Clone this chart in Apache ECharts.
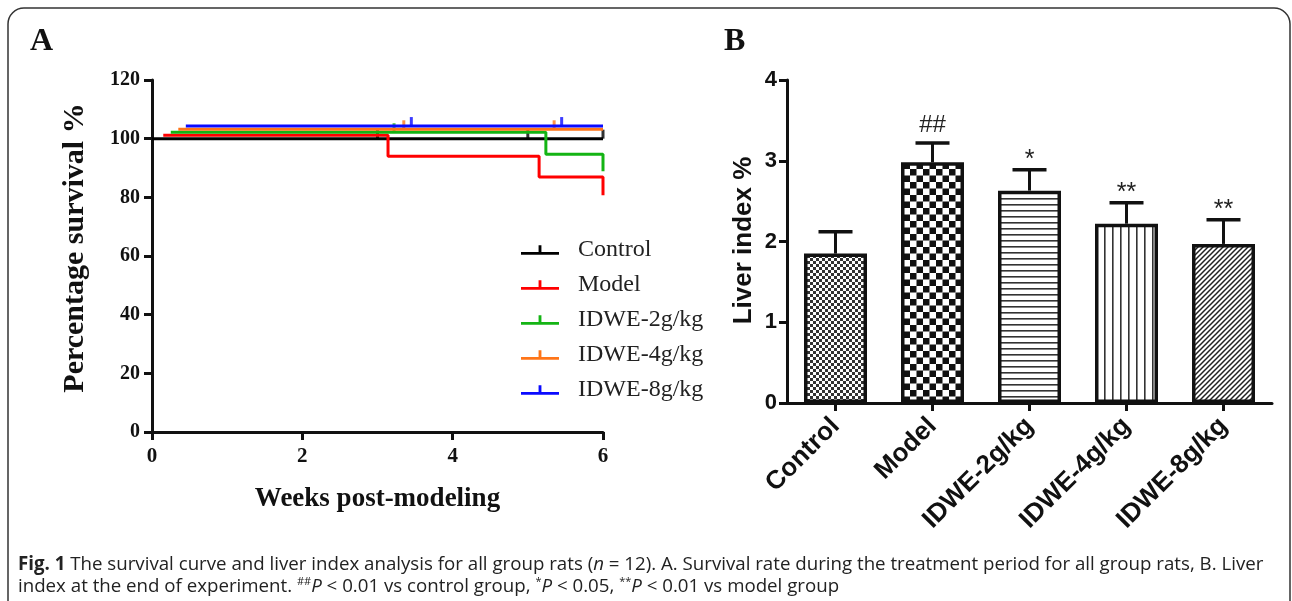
<!DOCTYPE html>
<html>
<head>
<meta charset="utf-8">
<script src="https://cdn.jsdelivr.net/npm/echarts@6/dist/echarts.min.js"></script>
<style>
  html, body { margin: 0; padding: 0; background: #fff; }
  #main { width: 1292px; height: 601px; }
</style>
</head>
<body>
<div id="main"></div>
<script>
// panel A: survival curves (weeks, percent) as drawn (GraphPad offsets each group a little)
const groupNames = ['Control', 'Model', 'IDWE-2g/kg', 'IDWE-4g/kg', 'IDWE-8g/kg']
const groupColors = ['#000000', '#ff0000', '#14b414', '#ff7518', '#0a0aff']
const controlCurve = [[0, 100], [6, 100]]
const modelCurve = [[0.15, 101.2], [3.14, 94.0], [5.15, 86.9], [6, 80.7]]
const idwe2Curve = [[0.25, 102.2], [5.24, 94.7], [6, 88.9]]
const idwe4Curve = [[0.35, 103.2], [6, 103.2]]
const idwe8Curve = [[0.45, 104.3], [6, 104.3]]
// censor marks
const controlCensor = [[3.0, 100], [5.0, 100], [6, 100]]
const modelCensor = []
const idwe2Censor = [[3.22, 102.2]]
const idwe4Censor = [[3.35, 103.2], [5.35, 103.2]]
const idwe8Censor = [[3.45, 104.3], [5.45, 104.3]]
const weekTicks = [0, 2, 4, 6]

// panel B: liver index
const liverMean = [1.85, 2.98, 2.63, 2.22, 1.97]
const liverSd = [0.27, 0.24, 0.26, 0.26, 0.30]
const liverSig = ['', '##', '*', '**', '**']

const curves = [controlCurve, modelCurve, idwe2Curve, idwe4Curve, idwe8Curve]
const censors = [controlCensor, modelCensor, idwe2Censor, idwe4Censor, idwe8Censor]

const serif = 'Liberation Serif'
const sans = 'Liberation Sans'

// fill patterns for the bars
function makePattern(kind) {
  const c = document.createElement('canvas')
  const ctx = c.getContext('2d')
  if (kind === 'fineChecker' || kind === 'checker') {
    const s = kind === 'fineChecker' ? 3 : 6.5
    c.width = c.height = s * 2
    ctx.fillStyle = '#fff'
    ctx.fillRect(0, 0, s * 2, s * 2)
    ctx.fillStyle = kind === 'fineChecker' ? '#333' : '#111'
    ctx.fillRect(0, 0, s, s)
    ctx.fillRect(s, s, s, s)
  } else if (kind === 'hlines') {
    c.width = 8; c.height = 6.5
    ctx.fillStyle = '#fff'
    ctx.fillRect(0, 0, 8, 7)
    ctx.fillStyle = '#333'
    ctx.fillRect(0, 0, 8, 1.6)
  } else if (kind === 'vlines') {
    c.width = 8; c.height = 8
    ctx.fillStyle = '#fff'
    ctx.fillRect(0, 0, 8, 8)
    ctx.fillStyle = '#333'
    ctx.fillRect(0, 0, 1.6, 8)
  } else {
    const s = 5
    c.width = c.height = s
    ctx.fillStyle = '#fff'
    ctx.fillRect(0, 0, s, s)
    ctx.strokeStyle = '#222'
    ctx.lineWidth = 1.5
    ctx.beginPath()
    ctx.moveTo(-1, s + 1); ctx.lineTo(s + 1, -1)
    ctx.moveTo(-1, 1); ctx.lineTo(1, -1)
    ctx.moveTo(s - 1, s + 1); ctx.lineTo(s + 1, s - 1)
    ctx.stroke()
  }
  return { image: c, repeat: 'repeat' }
}
const barPatterns = ['fineChecker', 'checker', 'hlines', 'vlines', 'diag'].map(makePattern)

const legendIcon = 'path://M0,7L40,7L40,10L0,10Z M18.5,0L21.5,0L21.5,7L18.5,7Z'

const series = []
curves.forEach((d, i) => {
  series.push({
    name: groupNames[i],
    type: 'line',
    xAxisIndex: 0,
    yAxisIndex: 0,
    step: 'end',
    symbol: 'none',
    data: d,
    color: groupColors[i],
    lineStyle: { width: 3, color: groupColors[i] },
    z: 2 + i,
  })
})
censors.forEach((d, i) => {
  series.push({
    name: groupNames[i] + ' censored',
    type: 'scatter',
    xAxisIndex: 0,
    yAxisIndex: 0,
    symbol: 'rect',
    symbolSize: [3, 9],
    symbolOffset: [0, '-50%'],
    data: d,
    itemStyle: { color: groupColors[i] },
    z: 2 + i,
  })
})
series.push({
  type: 'bar',
  xAxisIndex: 1,
  yAxisIndex: 1,
  barWidth: 63,
  data: liverMean.map((v, i) => ({
    value: v,
    itemStyle: { color: barPatterns[i], borderColor: '#111', borderWidth: 3.5 },
  })),
})
series.push({
  type: 'custom',
  xAxisIndex: 1,
  yAxisIndex: 1,
  data: liverMean.map((v, i) => [i, v + liverSd[i], v]),
  z: 5,
  renderItem: function (params, api) {
    const top = api.coord([api.value(0), api.value(1)])
    const base = api.coord([api.value(0), api.value(2)])
    const label = liverSig[params.dataIndex]
    const star = label.indexOf('*') >= 0
    return {
      type: 'group',
      children: [
        { type: 'line', shape: { x1: top[0], y1: base[1], x2: top[0], y2: top[1] }, style: { stroke: '#111', lineWidth: 3 } },
        { type: 'line', shape: { x1: top[0] - 17, y1: top[1], x2: top[0] + 17, y2: top[1] }, style: { stroke: '#111', lineWidth: 3.5 } },
        {
          type: 'text',
          style: {
            text: label,
            x: top[0],
            y: star ? top[1] + 3 : top[1] - 6,
            align: 'center',
            verticalAlign: 'bottom',
            font: (star ? '25px ' : '24px ') + sans,
            fill: '#222',
          },
        },
      ],
    }
  },
})

const axisLine = { show: true, lineStyle: { color: '#111', width: 3 } }
const axisTick = { show: true, length: 8, lineStyle: { color: '#111', width: 3 } }

const options = {
  animation: false,
  backgroundColor: '#fff',
  legend: {
    data: groupNames,
    orient: 'vertical',
    left: 516,
    top: 233,
    itemWidth: 38,
    itemHeight: 10,
    itemGap: 11,
    icon: legendIcon,
    itemStyle: { borderWidth: 0 },
    textStyle: { fontFamily: serif, fontSize: 24, lineHeight: 24, color: '#222', padding: [0, 0, 0, 14] },
  },
  grid: [
    { left: 152, right: 689, top: 80, bottom: 169, outerBoundsMode: 'none' },
    { left: 787, right: 20, top: 80, bottom: 198, outerBoundsMode: 'none' },
  ],
  xAxis: [
    {
      type: 'value',
      gridIndex: 0,
      min: weekTicks[0],
      max: weekTicks[weekTicks.length - 1],
      interval: 2,
      name: 'Weeks post-modeling',
      nameLocation: 'middle',
      nameGap: 54,
      nameTextStyle: { fontFamily: serif, fontWeight: 'bold', fontSize: 27, color: '#111' },
      axisLine: axisLine,
      axisTick: axisTick,
      splitLine: { show: false },
      axisLabel: { fontFamily: serif, fontWeight: 'bold', fontSize: 21, color: '#111', margin: 14 },
    },
    {
      type: 'category',
      gridIndex: 1,
      data: groupNames,
      axisLine: axisLine,
      axisTick: Object.assign({ alignWithLabel: true }, axisTick),
      axisLabel: { rotate: 45, fontFamily: sans, fontWeight: 'bold', fontSize: 26, color: '#111', margin: 19, interval: 0 },
    },
  ],
  yAxis: [
    {
      type: 'value',
      gridIndex: 0,
      min: 0,
      max: 120,
      interval: 20,
      name: 'Percentage survival %',
      nameLocation: 'middle',
      nameGap: 62,
      nameTextStyle: { fontFamily: serif, fontWeight: 'bold', fontSize: 30, color: '#111', padding: [0, 0, 0, 16] },
      axisLine: axisLine,
      axisTick: axisTick,
      splitLine: { show: false },
      axisLabel: { fontFamily: serif, fontWeight: 'bold', fontSize: 20, color: '#111', margin: 12 },
    },
    {
      type: 'value',
      gridIndex: 1,
      min: 0,
      max: 4,
      interval: 1,
      name: 'Liver index %',
      nameLocation: 'middle',
      nameGap: 30,
      nameTextStyle: { fontFamily: sans, fontWeight: 'bold', fontSize: 26, color: '#111', padding: [0, 0, 0, 2] },
      axisLine: axisLine,
      axisTick: axisTick,
      splitLine: { show: false },
      axisLabel: { fontFamily: sans, fontWeight: 'bold', fontSize: 22, color: '#111', margin: 10 },
    },
  ],
  graphic: [
    { type: 'rect', shape: { x: 8, y: 8, width: 1282, height: 700, r: 16 }, style: { fill: 'none', stroke: '#333', lineWidth: 1.5 }, silent: true },
    { type: 'text', left: 30, top: 26, style: { text: 'A', font: 'bold 32px ' + serif, fill: '#111' } },
    { type: 'text', left: 724, top: 26, style: { text: 'B', font: 'bold 32px ' + serif, fill: '#111' } },
    {
      type: 'text',
      left: 18,
      top: 554,
      style: {
        text: '{b|Fig. 1} The survival curve and liver index analysis for all group rats ({i|n} = 12). A. Survival rate during the treatment period for all group rats, B. Liver\nindex at the end of experiment. {s|##}{i|P} < 0.01 vs control group, {s|*}{i|P} < 0.05, {s|**}{i|P} < 0.01 vs model group',
        font: '18.7px "Open Sans"',
        fill: '#222',
        lineHeight: 22,
        rich: {
          b: { fontWeight: 'bold', fontFamily: 'Open Sans', fontSize: 18.7, lineHeight: 22 },
          i: { fontStyle: 'italic', fontFamily: 'Open Sans', fontSize: 18.7, lineHeight: 22 },
          s: { fontFamily: 'Open Sans', fontSize: 11, lineHeight: 22, verticalAlign: 'top' },
        },
      },
    },
  ],
  series: series,
}

const chart = echarts.init(document.getElementById('main'))
chart.setOption(options)
window.onresize = function () {
  chart.resize()
}
</script>
</body>
</html>
